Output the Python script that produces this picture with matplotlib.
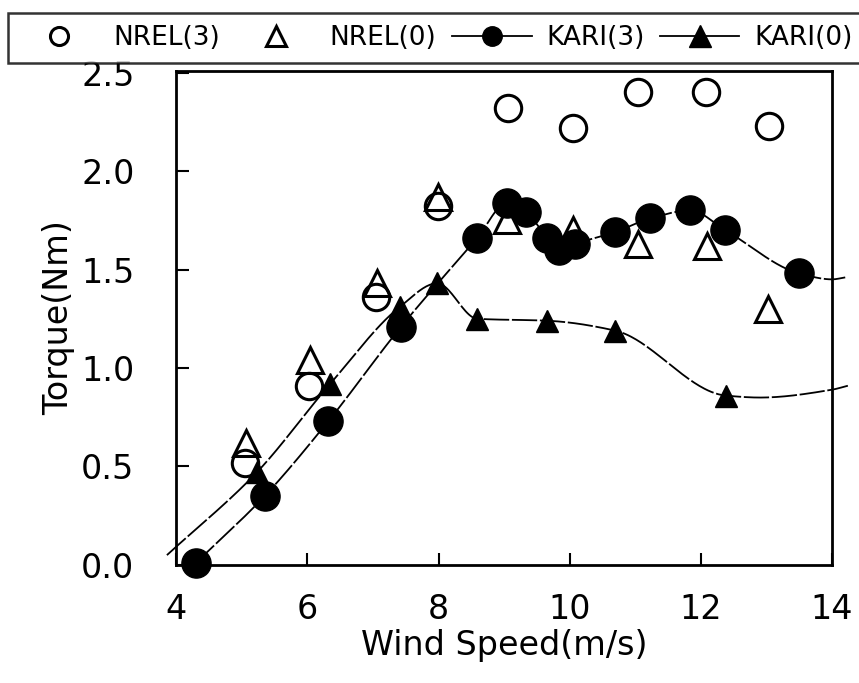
import numpy as np
import matplotlib
matplotlib.use("Agg")
import matplotlib.pyplot as plt
from matplotlib.lines import Line2D

# data
nrel3_x = [5.05, 6.02, 7.05, 7.99, 9.06, 10.05, 11.04, 12.08, 13.04]
nrel3_y = [0.52, 0.91, 1.36, 1.82, 2.32, 2.22, 2.40, 2.40, 2.23]

nrel0_x = [5.07, 6.04, 7.06, 7.99, 9.05, 10.05, 11.04, 12.09, 13.02]
nrel0_y = [0.62, 1.04, 1.43, 1.87, 1.75, 1.70, 1.63, 1.62, 1.30]

kari3_x = [4.30, 5.35, 6.32, 7.43, 8.59, 9.05, 9.34, 9.66, 9.84, 10.08, 10.69, 11.23, 11.84, 12.37, 13.50]
kari3_y = [0.01, 0.35, 0.73, 1.21, 1.66, 1.84, 1.79, 1.66, 1.60, 1.63, 1.69, 1.76, 1.80, 1.70, 1.48]

kari0_x = [5.23, 6.35, 7.41, 7.98, 8.59, 9.66, 10.69, 12.38]
kari0_y = [0.47, 0.92, 1.31, 1.43, 1.25, 1.24, 1.19, 0.86]

# where the fitted curves run past the markers
kari3_tail_x = [14.0, 14.2]
kari3_tail_y = [1.45, 1.46]
kari0_head_x = [3.86]
kari0_head_y = [0.05]
kari0_tail_x = [12.9, 14.0, 14.24]
kari0_tail_y = [0.85, 0.89, 0.91]

x_ticks = [4, 6, 8, 10, 12, 14]
y_ticks = [0.0, 0.5, 1.0, 1.5, 2.0, 2.5]


def pchip(x, y, xs):
    # monotone cubic so the curve does not overshoot
    x = np.asarray(x, float)
    y = np.asarray(y, float)
    h = np.diff(x)
    d = np.diff(y) / h
    m = np.zeros_like(y)
    m[0] = d[0]
    m[-1] = d[-1]
    for k in range(1, len(x) - 1):
        if d[k-1] * d[k] > 0:
            w1 = 2*h[k] + h[k-1]
            w2 = h[k] + 2*h[k-1]
            m[k] = (w1 + w2) / (w1/d[k-1] + w2/d[k])
    i = np.clip(np.searchsorted(x, xs) - 1, 0, len(x) - 2)
    t = (xs - x[i]) / h[i]
    h00 = 2*t**3 - 3*t**2 + 1
    h10 = t**3 - 2*t**2 + t
    h01 = -2*t**3 + 3*t**2
    h11 = t**3 - t**2
    return h00*y[i] + h10*h[i]*m[i] + h01*y[i+1] + h11*h[i]*m[i+1]


plt.rcParams['font.family'] = ['DejaVu Sans']
fig = plt.figure(figsize=(8.59, 6.83), dpi=100)
ax = fig.add_axes([0.205, 0.1728, 0.7637, 0.7233])

line_style = dict(color="black", lw=1.3, dashes=(14, 1.5), clip_on=False, zorder=2)

lx = np.array(kari3_x + kari3_tail_x)
ly = np.array(kari3_y + kari3_tail_y)
xs = np.linspace(lx[0], lx[-1], 400)
ax.plot(xs, pchip(lx, ly, xs), **line_style)

lx = np.array(kari0_head_x + kari0_x + kari0_tail_x)
ly = np.array(kari0_head_y + kari0_y + kari0_tail_y)
xs = np.linspace(lx[0], lx[-1], 400)
ax.plot(xs, pchip(lx, ly, xs), **line_style)

ax.plot(nrel3_x, nrel3_y, "o", ms=19, mfc="none", mec="black", mew=2.2, clip_on=False, zorder=3)
ax.plot(nrel0_x, nrel0_y, "^", ms=19, mfc="none", mec="black", mew=2.2, clip_on=False, zorder=3)
ax.plot(kari3_x, kari3_y, "o", ms=21, color="black", clip_on=False, zorder=4)
ax.plot(kari0_x, kari0_y, "^", ms=16, color="black", clip_on=False, zorder=4)

ax.set_xlim(4, 14)
ax.set_ylim(0, 2.508)
ax.set_xticks(x_ticks)
ax.set_yticks(y_ticks)
ax.set_yticklabels(["%.1f" % v for v in y_ticks])
ax.tick_params(axis='both', direction='in', length=9, width=1.5, labelsize=24)
ax.tick_params(axis='x', pad=20)
ax.tick_params(axis='y', pad=30)
for s in ax.spines.values():
    s.set_linewidth(2)

ax.set_xlabel("Wind Speed(m/s)", fontsize=24, labelpad=2)
ax.set_ylabel("Torque(Nm)", fontsize=24, labelpad=4)

handles = [
    Line2D([], [], ls="none", marker="o", ms=13, mfc="none", mec="black", mew=2.2),
    Line2D([], [], ls="none", marker="^", ms=14, mfc="none", mec="black", mew=2.2),
    Line2D([], [], color="black", lw=1.3, marker="o", ms=14),
    Line2D([], [], color="black", lw=1.3, marker="^", ms=16),
]
labels = ["NREL(3)", "NREL(0)", "KARI(3)", "KARI(0)"]
leg = fig.legend(handles, labels, loc="upper left", bbox_to_anchor=(8/859, 1 - 13/683),
                 ncol=4, fontsize=19, frameon=True, fancybox=False, borderaxespad=0,
                 borderpad=0.45, handlelength=3.0, handletextpad=0.55, columnspacing=0.6,
                 numpoints=1)
leg.get_frame().set_edgecolor("black")
leg.get_frame().set_linewidth(1.8)

fig.savefig("out.png", dpi=100)
